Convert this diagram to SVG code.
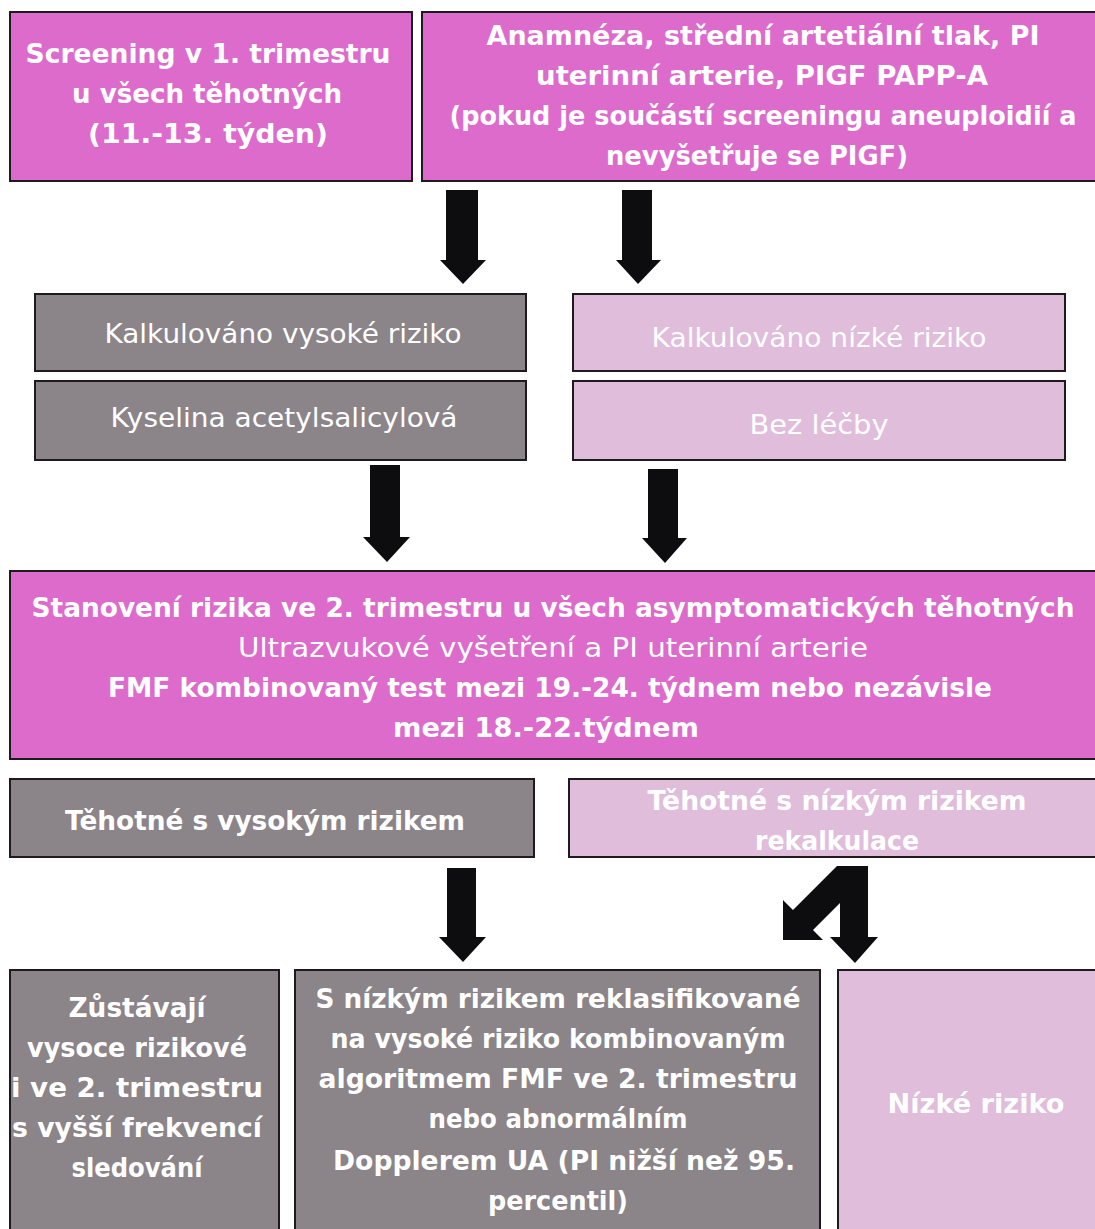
<svg xmlns="http://www.w3.org/2000/svg" width="1095" height="1229" viewBox="0 0 1095 1229">
<style>
.box{stroke:#1e1a1e;stroke-width:2}
.pk{fill:#dc6bcc}
.gr{fill:#8b8489}
.lp{fill:#e0bddb}
text{font-family:"DejaVu Sans","Noto Sans",sans-serif;fill:#ffffff;text-anchor:middle}
.b{font-weight:bold;font-size:26px}
.r{font-size:26px}
.arrow{fill:#0d0d0f}
</style>
<rect width="1095" height="1229" fill="#ffffff"/>
<g id="n1">
<rect class="box pk" x="10" y="12" width="402" height="169"/>
<text class="b" x="208" y="63" textLength="365" lengthAdjust="spacingAndGlyphs">Screening v 1. trimestru</text>
<text class="b" x="207" y="103" textLength="270" lengthAdjust="spacingAndGlyphs">u všech těhotných</text>
<text class="b" x="208" y="143" textLength="240" lengthAdjust="spacingAndGlyphs">(11.-13. týden)</text>
</g>
<g id="n2">
<rect class="box pk" x="422" y="12" width="680" height="169"/>
<text class="b" x="763" y="45" textLength="553" lengthAdjust="spacingAndGlyphs">Anamnéza, střední artetiální tlak, PI</text>
<text class="b" x="762" y="85" textLength="452" lengthAdjust="spacingAndGlyphs">uterinní arterie, PIGF PAPP-A</text>
<text class="b" x="763" y="125" textLength="627" lengthAdjust="spacingAndGlyphs">(pokud je součástí screeningu aneuploidií a</text>
<text class="b" x="757" y="165" textLength="302" lengthAdjust="spacingAndGlyphs">nevyšetřuje se PIGF)</text>
</g>
<g id="n3">
<rect class="box gr" x="35" y="294" width="491" height="77"/>
<text class="r" x="283" y="343" textLength="357" lengthAdjust="spacingAndGlyphs">Kalkulováno vysoké riziko</text>
</g>
<g id="n4">
<rect class="box gr" x="35" y="381" width="491" height="79"/>
<text class="r" x="284" y="427" textLength="347" lengthAdjust="spacingAndGlyphs">Kyselina acetylsalicylová</text>
</g>
<g id="n5">
<rect class="box lp" x="573" y="294" width="492" height="77"/>
<text class="r" x="819" y="347" textLength="335" lengthAdjust="spacingAndGlyphs">Kalkulováno nízké riziko</text>
</g>
<g id="n6">
<rect class="box lp" x="573" y="381" width="492" height="79"/>
<text class="r" x="819" y="434" textLength="139" lengthAdjust="spacingAndGlyphs">Bez léčby</text>
</g>
<g id="n7">
<rect class="box pk" x="10" y="571" width="1092" height="188"/>
<text class="b" x="553" y="617" textLength="1043" lengthAdjust="spacingAndGlyphs">Stanovení rizika ve 2. trimestru u všech asymptomatických těhotných</text>
<text class="r" x="553" y="657" textLength="630" lengthAdjust="spacingAndGlyphs">Ultrazvukové vyšetření a PI uterinní arterie</text>
<text class="b" x="550" y="697" textLength="884" lengthAdjust="spacingAndGlyphs">FMF kombinovaný test mezi 19.-24. týdnem nebo nezávisle</text>
<text class="b" x="546" y="737" textLength="306" lengthAdjust="spacingAndGlyphs">mezi 18.-22.týdnem</text>
</g>
<g id="n8">
<rect class="box gr" x="10" y="779" width="524" height="78"/>
<text class="b" x="265" y="830" textLength="400" lengthAdjust="spacingAndGlyphs">Těhotné s vysokým rizikem</text>
</g>
<g id="n9">
<rect class="box lp" x="569" y="779" width="533" height="78"/>
<text class="b" x="837" y="810" textLength="379" lengthAdjust="spacingAndGlyphs">Těhotné s nízkým rizikem</text>
<text class="b" x="837" y="850" textLength="164" lengthAdjust="spacingAndGlyphs">rekalkulace</text>
</g>
<g id="n10">
<rect class="box gr" x="10" y="970" width="269" height="265"/>
<text class="b" x="137" y="1017" textLength="137" lengthAdjust="spacingAndGlyphs">Zůstávají</text>
<text class="b" x="137" y="1057" textLength="220" lengthAdjust="spacingAndGlyphs">vysoce rizikové</text>
<text class="b" x="137" y="1097" textLength="252" lengthAdjust="spacingAndGlyphs">i ve 2. trimestru</text>
<text class="b" x="137" y="1137" textLength="250" lengthAdjust="spacingAndGlyphs">s vyšší frekvencí</text>
<text class="b" x="137" y="1177" textLength="131" lengthAdjust="spacingAndGlyphs">sledování</text>
</g>
<g id="n11">
<rect class="box gr" x="295" y="970" width="525" height="265"/>
<text class="b" x="558" y="1008" textLength="485" lengthAdjust="spacingAndGlyphs">S nízkým rizikem reklasifikované</text>
<text class="b" x="558" y="1048" textLength="455" lengthAdjust="spacingAndGlyphs">na vysoké riziko kombinovaným</text>
<text class="b" x="558" y="1088" textLength="479" lengthAdjust="spacingAndGlyphs">algoritmem FMF ve 2. trimestru</text>
<text class="b" x="558" y="1128" textLength="259" lengthAdjust="spacingAndGlyphs">nebo abnormálním</text>
<text class="b" x="564" y="1170" textLength="462" lengthAdjust="spacingAndGlyphs">Dopplerem UA (PI nižší než 95.</text>
<text class="b" x="558" y="1210" textLength="140" lengthAdjust="spacingAndGlyphs">percentil)</text>
</g>
<g id="n12">
<rect class="box lp" x="838" y="970" width="264" height="265"/>
<text class="b" x="976" y="1113" textLength="177" lengthAdjust="spacingAndGlyphs">Nízké riziko</text>
</g>
<g id="connectors">
<polygon class="arrow" points="446,190 478,190 478,260 486,260 463,284 440,260 446,260"/>
<polygon class="arrow" points="622,190 652,190 652,260 661,260 638,284 616,260 622,260"/>
<polygon class="arrow" points="370,465 400,465 400,537 410,537 387,562 363,537 370,537"/>
<polygon class="arrow" points="648,469 678,469 678,538 687,538 665,563 642,538 648,538"/>
<polygon class="arrow" points="447,868 476,868 476,937 486,937 463,962 439,937 447,937"/>
<polygon class="arrow" points="837,866 868,866 868,937 878,937 855,963 830,937 840,937 840,903 813,930 823,940 783,940 783,900 793,910"/>
</g>
</svg>
